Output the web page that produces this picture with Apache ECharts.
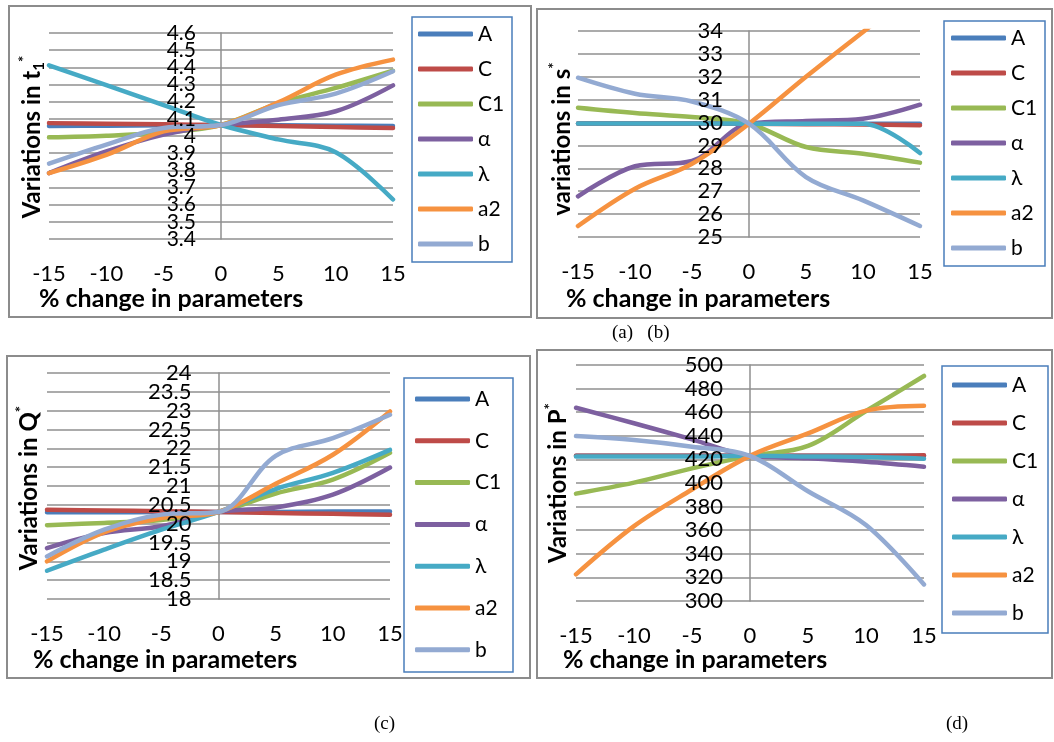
<!DOCTYPE html>
<html>
<head>
<meta charset="utf-8">
<script src="https://cdn.jsdelivr.net/npm/echarts@6/dist/echarts.min.js"></script>
<style>
html,body{margin:0;padding:0;background:#fff;}
#main{width:1054px;height:742px;}
</style>
</head>
<body>
<div id="main"></div>
<script>
// ---- data ----
const X = [-15, -10, -5, 0, 5, 10, 15];
const NAMES = ['A', 'C', 'C1', 'α', 'λ', 'a2', 'b'];
const COLORS = ['#4A7EBB', '#BE4B48', '#98B954', '#7D60A0', '#46AAC5', '#F69240', '#93AAD2'];

// (a) t1*
const t1_A  = [4.058, 4.060, 4.062, 4.064, 4.062, 4.060, 4.058];
const t1_C  = [4.075, 4.072, 4.068, 4.064, 4.058, 4.052, 4.047];
const t1_C1 = [3.992, 4.002, 4.020, 4.064, 4.190, 4.280, 4.380];
const t1_al = [3.784, 3.910, 4.008, 4.064, 4.095, 4.144, 4.295];
const t1_la = [4.412, 4.297, 4.180, 4.064, 3.980, 3.905, 3.630];
const t1_a2 = [3.784, 3.890, 4.027, 4.064, 4.196, 4.357, 4.445];
const t1_b  = [3.839, 3.950, 4.047, 4.064, 4.180, 4.247, 4.377];

// (b) s*
const s_A  = [29.96, 29.96, 29.96, 29.95, 29.95, 29.95, 29.95];
const s_C  = [29.96, 29.96, 29.96, 29.95, 29.93, 29.92, 29.88];
const s_C1 = [30.65, 30.42, 30.24, 29.95, 28.93, 28.64, 28.25];
const s_al = [26.78, 28.09, 28.32, 29.95, 30.07, 30.17, 30.78];
const s_la = [29.96, 29.96, 29.96, 29.95, 29.95, 29.95, 28.67];
const s_a2 = [25.48, 27.11, 28.20, 29.95, 32.00, 33.96, 35.90];
const s_b  = [31.96, 31.26, 30.92, 29.95, 27.62, 26.60, 25.48];

// (c) Q*
const q_A  = [20.30, 20.30, 20.31, 20.31, 20.31, 20.32, 20.32];
const q_C  = [20.37, 20.35, 20.33, 20.31, 20.28, 20.26, 20.24];
const q_C1 = [19.96, 20.02, 20.10, 20.31, 20.80, 21.17, 21.88];
const q_al = [19.35, 19.75, 19.93, 20.31, 20.43, 20.77, 21.49];
const q_la = [18.75, 19.31, 19.84, 20.31, 20.92, 21.35, 21.96];
const q_a2 = [19.00, 19.77, 20.15, 20.31, 21.06, 21.83, 22.98];
const q_b  = [19.13, 19.84, 20.24, 20.31, 21.80, 22.27, 22.89];

// (d) P*
const p_A  = [423, 423, 423, 423, 423, 423, 423];
const p_C  = [423, 423, 423, 423, 423, 423, 423.5];
const p_C1 = [391, 400.3, 412.4, 423, 431.4, 461, 490.7];
const p_al = [463.8, 450.6, 437, 423, 421, 418, 413.8];
const p_la = [422.5, 422.5, 422.5, 423, 422.5, 422, 420.6];
const p_a2 = [322.6, 363.5, 394.5, 423, 442, 461.3, 465.5];
const p_b  = [439.8, 436.4, 430.8, 423, 393, 364.4, 314];

// y-axis ranges
const Y_A = {min: 3.4, max: 4.6, interval: 0.1};
const Y_B = {min: 25, max: 34, interval: 1};
const Y_C = {min: 18, max: 24, interval: 0.5};
const Y_D = {min: 300, max: 500, interval: 20};

// ---- layout ----
const FONT = 'Lato, "Open Sans", sans-serif';
const GRID_COL = '#8f8f8f';
const panels = [
  {grid: {left: 49, top: 33, width: 344, height: 206}, y: Y_A, ylab: 21, ymargin: 25,
   data: [t1_A, t1_C, t1_C1, t1_al, t1_la, t1_a2, t1_b],
   legend: {left: 418, top: 23, gap: 13}},
  {grid: {left: 578, top: 31, width: 342, height: 206}, y: Y_B, ylab: 22, ymargin: 26,
   data: [s_A, s_C, s_C1, s_al, s_la, s_a2, s_b],
   legend: {left: 951, top: 27, gap: 13}},
  {grid: {left: 47, top: 373, width: 343, height: 226}, y: Y_C, ylab: 22, ymargin: 27,
   data: [q_A, q_C, q_C1, q_al, q_la, q_a2, q_b],
   legend: {left: 415, top: 388, gap: 19.8}},
  {grid: {left: 576, top: 365, width: 348, height: 236}, y: Y_D, ylab: 22, ymargin: 27,
   data: [p_A, p_C, p_C1, p_al, p_la, p_a2, p_b],
   legend: {left: 952, top: 374, gap: 16}}
];

// labels are split over two overlaid axes (even / odd ticks) so none of the
// tightly packed tick labels gets dropped by the overlap check
function labelFmt(yr, parity) {
  return function (v) {
    const idx = Math.round((v - yr.min) / yr.interval);
    if (idx % 2 !== parity) return '';
    return String(parseFloat(v.toFixed(4)));
  };
}

const grids = [], xAxes = [], yAxes = [], series = [], legends = [];
panels.forEach((p, i) => {
  grids.push(Object.assign({}, p.grid));
  xAxes.push({
    type: 'value', gridIndex: i, min: -15, max: 15, interval: 5,
    axisLine: {show: false, onZero: false}, axisTick: {show: false}, splitLine: {show: false},
    axisLabel: {fontSize: 22, fontFamily: FONT, color: '#000', margin: 24,
      showMinLabel: true, showMaxLabel: true}
  });
  // gridlines + vertical line at x = 0, drawn under the series
  yAxes.push({
    type: 'value', gridIndex: i, min: p.y.min, max: p.y.max, interval: p.y.interval,
    position: 'left', offset: -p.grid.width / 2, z: 0,
    axisLine: {show: true, onZero: false, lineStyle: {color: GRID_COL, width: 1.5}},
    axisTick: {show: false},
    splitLine: {show: true, lineStyle: {color: GRID_COL, width: 1.5}},
    axisLabel: {show: false}
  });
  [0, 1].forEach(par => {
    yAxes.push({
      type: 'value', gridIndex: i, min: p.y.min, max: p.y.max, interval: p.y.interval,
      position: 'left', offset: -p.grid.width / 2, z: 20,
      axisLine: {show: false}, axisTick: {show: false}, splitLine: {show: false},
      axisLabel: {fontSize: p.ylab, fontFamily: FONT, color: '#000', margin: p.ymargin,
        showMinLabel: true, showMaxLabel: true, hideOverlap: false,
        formatter: labelFmt(p.y, par)}
    });
  });
  NAMES.forEach((n, k) => {
    series.push({
      type: 'line', name: n, xAxisIndex: i, yAxisIndex: 3 * i,
      data: X.map((x, j) => [x, p.data[k][j]]),
      smooth: 0.35, showSymbol: false, symbol: 'none', clip: true,
      lineStyle: {color: COLORS[k], width: 4.5, cap: 'round', join: 'round'},
      itemStyle: {color: COLORS[k]},
      emphasis: {disabled: true}, animation: false
    });
  });
  legends.push({
    orient: 'vertical', left: p.legend.left, top: p.legend.top, padding: 0,
    itemWidth: 55, itemHeight: 5, itemGap: p.legend.gap, icon: 'roundRect',
    selectedMode: false, data: NAMES,
    textStyle: {fontSize: 21, fontFamily: FONT, color: '#000', lineHeight: 22}
  });
});

function rectG(x, y, w, h, color, lw) {
  return {type: 'rect', shape: {x: x, y: y, width: w, height: h}, silent: true,
    style: {fill: 'none', stroke: color, lineWidth: lw}, z: 1};
}
function textG(x, y, text, opt) {
  return {type: 'text', x: x, y: y, silent: true, z: 10,
    style: Object.assign({text: text, fill: '#000', fontFamily: FONT, fontSize: 25,
      fontWeight: 'bold', align: 'left', verticalAlign: 'middle'}, opt || {})};
}
const richY = {
  m: {fontSize: 24, fontWeight: 'bold', fontFamily: FONT, lineHeight: 30, fill: '#000'},
  sub: {fontSize: 15, fontWeight: 'bold', fontFamily: FONT, lineHeight: 15, verticalAlign: 'bottom', fill: '#000'},
  sup: {fontSize: 15, fontWeight: 'bold', fontFamily: FONT, lineHeight: 15, verticalAlign: 'top', fill: '#000'}
};
function yTitle(x, y, text) {
  return {type: 'text', x: x, y: y, rotation: Math.PI / 2, silent: true, z: 10,
    style: {text: text, rich: richY, align: 'center', verticalAlign: 'middle', fill: '#000',
      fontFamily: FONT, fontSize: 24, fontWeight: 'bold'}};
}

const graphic = [
  rectG(9, 6, 522, 311, '#8c8c8c', 2),
  rectG(537, 9, 515, 309, '#8c8c8c', 2),
  rectG(7, 356, 523, 322, '#8c8c8c', 2),
  rectG(537, 350, 515, 328, '#8c8c8c', 2),
  rectG(412, 17, 100, 245, '#4a7ebb', 1.5),
  rectG(944, 21, 101, 245, '#4a7ebb', 1.5),
  rectG(404, 378, 109, 294, '#4a7ebb', 1.5),
  rectG(942, 366, 106, 267, '#4a7ebb', 1.5),
  textG(39, 299, '% change in parameters'),
  textG(566, 299, '% change in parameters'),
  textG(33, 660, '% change in parameters'),
  textG(563, 660, '% change in parameters'),
  yTitle(32, 137, '{m|Variations in t}{sub|1}{sup|*}'),
  yTitle(562, 139, '{m|variations in s}{sup|*}'),
  yTitle(29, 488, '{m|Variations in Q}{sup|*}'),
  yTitle(558, 483, '{m|Variations in P}{sup|*}'),
  textG(612, 333, '(a)   (b)', {fontFamily: '"Liberation Serif", serif', fontWeight: 'normal', fontSize: 19}),
  textG(374, 724, '(c)', {fontFamily: '"Liberation Serif", serif', fontWeight: 'normal', fontSize: 19}),
  textG(946, 724, '(d)', {fontFamily: '"Liberation Serif", serif', fontWeight: 'normal', fontSize: 19})
];

const chart = echarts.init(document.getElementById('main'), null, {renderer: 'canvas'});
chart.setOption({
  backgroundColor: '#fff',
  animation: false,
  grid: grids, xAxis: xAxes, yAxis: yAxes, legend: legends, series: series,
  graphic: graphic
});
</script>
</body>
</html>
